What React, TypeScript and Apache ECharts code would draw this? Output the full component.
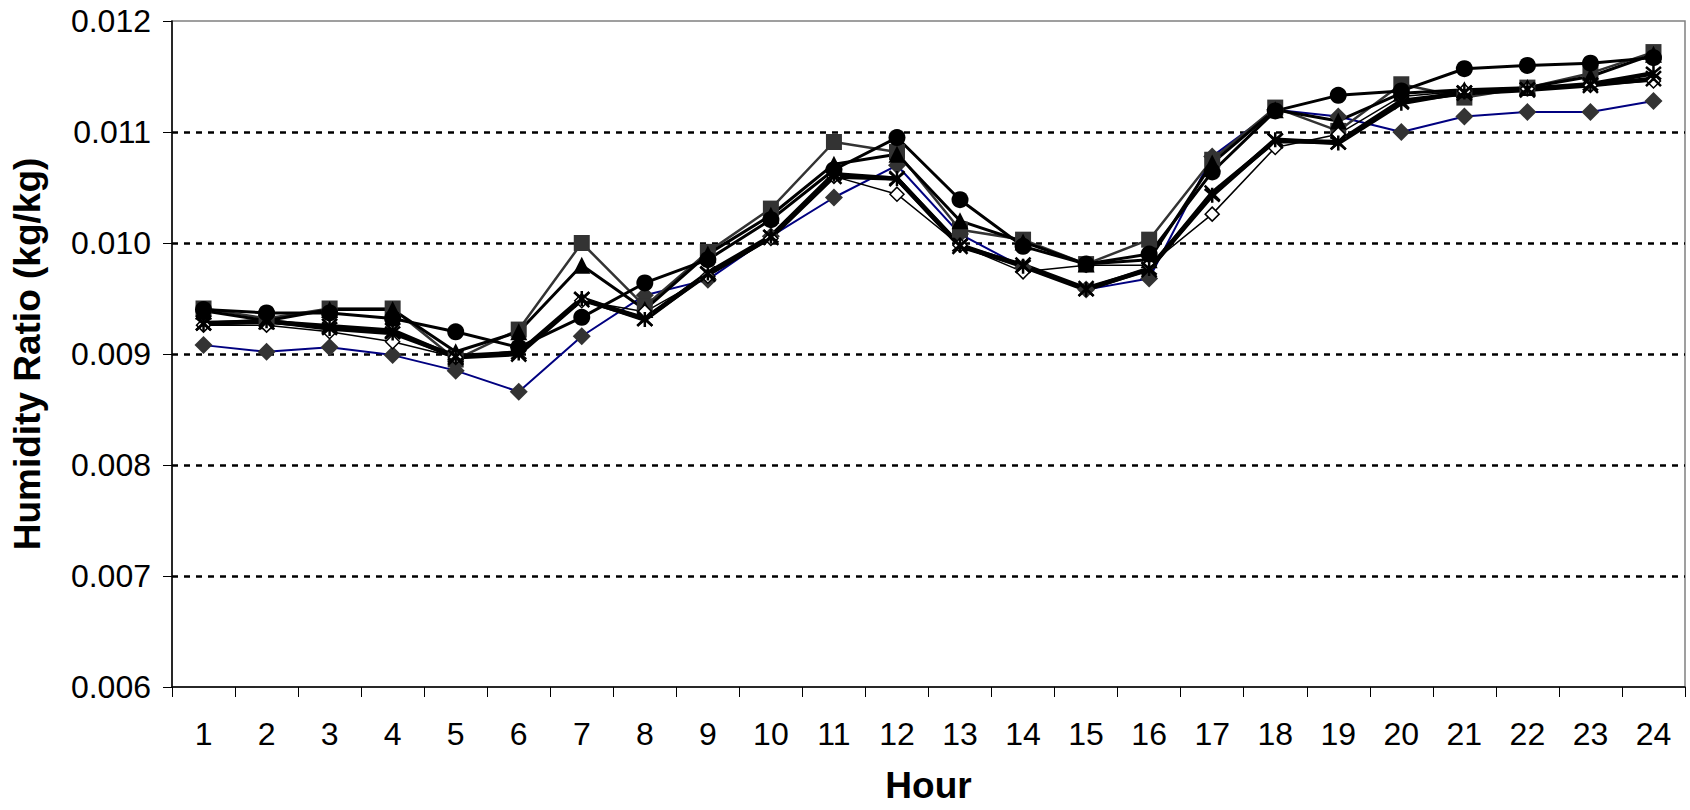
import React, { useEffect, useRef } from "react";
import * as echarts from "echarts";

const hours = ["1","2","3","4","5","6","7","8","9","10","11","12","13","14","15","16","17","18","19","20","21","22","23","24"];

const seriesDiamondNavy = [0.00908,0.00902,0.00906,0.00899,0.00885,0.00866,0.00916,0.00953,0.00967,0.01006,0.01041,0.01070,0.01008,0.00978,0.00958,0.00968,0.01078,0.01120,0.01114,0.01100,0.01114,0.01118,0.01118,0.01128];
const seriesSquare = [0.00941,0.00932,0.00941,0.00941,0.00895,0.00922,0.01000,0.00943,0.00992,0.01031,0.01091,0.01082,0.01012,0.01003,0.00981,0.01003,0.01075,0.01122,0.01101,0.01143,0.01131,0.01140,0.01153,0.01172];
const seriesTriangle = [0.00939,0.00930,0.00940,0.00940,0.00902,0.00920,0.00980,0.00940,0.00990,0.01025,0.01071,0.01080,0.01020,0.01001,0.00981,0.00985,0.01072,0.01120,0.01110,0.01135,0.01138,0.01140,0.01150,0.01170];
const seriesCross = [0.00928,0.00929,0.00925,0.00921,0.00897,0.00900,0.00949,0.00932,0.00972,0.01005,0.01060,0.01058,0.00997,0.00980,0.00959,0.00976,0.01045,0.01092,0.01091,0.01128,0.01135,0.01138,0.01142,0.01148];
const seriesStar = [0.00927,0.00930,0.00923,0.00919,0.00898,0.00901,0.00950,0.00931,0.00973,0.01006,0.01062,0.01058,0.00998,0.00979,0.00958,0.00977,0.01043,0.01093,0.01090,0.01126,0.01136,0.01139,0.01143,0.01153];
const seriesCircle = [0.00940,0.00937,0.00937,0.00932,0.00920,0.00906,0.00933,0.00964,0.00985,0.01021,0.01066,0.01095,0.01039,0.00997,0.00981,0.00990,0.01064,0.01119,0.01133,0.01137,0.01157,0.01160,0.01162,0.01167];
const seriesOpenDiamond = [0.00926,0.00926,0.00920,0.00911,0.00897,0.00903,0.00948,0.00938,0.00970,0.01004,0.01060,0.01044,0.00998,0.00974,0.00980,0.00980,0.01026,0.01086,0.01098,0.01132,0.01137,0.01139,0.01142,0.01146];

const yTicks = { min: 0.006, max: 0.012, interval: 0.001 };

const FONT = "'Liberation Sans', Arial, sans-serif";

export default function App() {
  const ref = useRef<HTMLDivElement>(null);
  useEffect(() => {
    if (!ref.current) return;
    const chart = echarts.init(ref.current, null, { renderer: "svg" });
    const crossPath = "path://M0,0L10,10M10,0L0,10";
    const starPath = "path://M0,0L10,10M10,0L0,10M5,-1L5,11";
    const mk = (name: string, data: number[], lineColor: string, lineWidth: number, symbol: string, size: number, item: any) => ({
      name,
      type: "line",
      data,
      symbol,
      symbolSize: size,
      showSymbol: true,
      lineStyle: { color: lineColor, width: lineWidth },
      itemStyle: item,
      emphasis: { disabled: true },
    });
    chart.setOption({
      animation: false,
      grid: {
        left: 172,
        right: 5,
        top: 21,
        bottom: 123,
        show: true,
        outerBoundsMode: "none",
        containLabel: false,
        borderColor: "#808080",
        borderWidth: 1.5,
        backgroundColor: "#fff",
      },
      xAxis: {
        type: "category",
        data: hours,
        boundaryGap: true,
        name: "Hour",
        nameLocation: "middle",
        nameGap: 80,
        nameTextStyle: { fontFamily: FONT, fontSize: 37, lineHeight: 37, fontWeight: "bold", color: "#000" },
        axisLine: { show: true, lineStyle: { color: "#000", width: 1.5 } },
        axisTick: { show: true, inside: false, length: 10, alignWithLabel: false, lineStyle: { color: "#000", width: 1 } },
        axisLabel: { fontFamily: FONT, fontSize: 32, color: "#000", margin: 31, interval: 0 },
        splitLine: { show: false },
      },
      yAxis: {
        type: "value",
        min: yTicks.min,
        max: yTicks.max,
        interval: yTicks.interval,
        name: "Humidity Ratio (kg/kg)",
        nameLocation: "middle",
        nameGap: 126,
        nameTextStyle: { fontFamily: FONT, fontSize: 37, fontWeight: "bold", color: "#000" },
        axisLine: { show: true, lineStyle: { color: "#000", width: 1.5 } },
        axisTick: { show: true, inside: false, length: 9, lineStyle: { color: "#000", width: 1 } },
        axisLabel: {
          fontFamily: FONT,
          fontSize: 32,
          color: "#000",
          margin: 21,
          formatter: (v: number) => v.toFixed(3),
        },
        splitLine: {
          show: true,
          showMinLine: false,
          showMaxLine: false,
          lineStyle: { color: "#000", width: 2.5, type: [6, 6] },
        },
      },
      series: [
        mk("S1", seriesDiamondNavy, "#000080", 2, "diamond", 18, { color: "#333333", borderWidth: 0 }),
        mk("S2", seriesSquare, "#333333", 2.5, "rect", 16, { color: "#333333", borderWidth: 0 }),
        mk("S3", seriesTriangle, "#000000", 3, "triangle", 17, { color: "#000000", borderWidth: 0 }),
        mk("S7", seriesOpenDiamond, "#000000", 1.5, "diamond", 14, { color: "#ffffff", borderColor: "#000", borderWidth: 1.5 }),
        mk("S4", seriesCross, "#000000", 4.5, crossPath, 15, { color: "none", borderColor: "#000", borderWidth: 2.5 }),
        mk("S5", seriesStar, "#000000", 4.5, starPath, 15, { color: "none", borderColor: "#000", borderWidth: 2.5 }),
        mk("S6", seriesCircle, "#000000", 3, "circle", 17, { color: "#000000", borderWidth: 0 }),
      ],
    });
    return () => chart.dispose();
  }, []);
  return (
    <div
      ref={ref}
      style={{ position: "absolute", left: 0, top: 0, width: 1690, height: 810, background: "#fff" }}
    />
  );
}
